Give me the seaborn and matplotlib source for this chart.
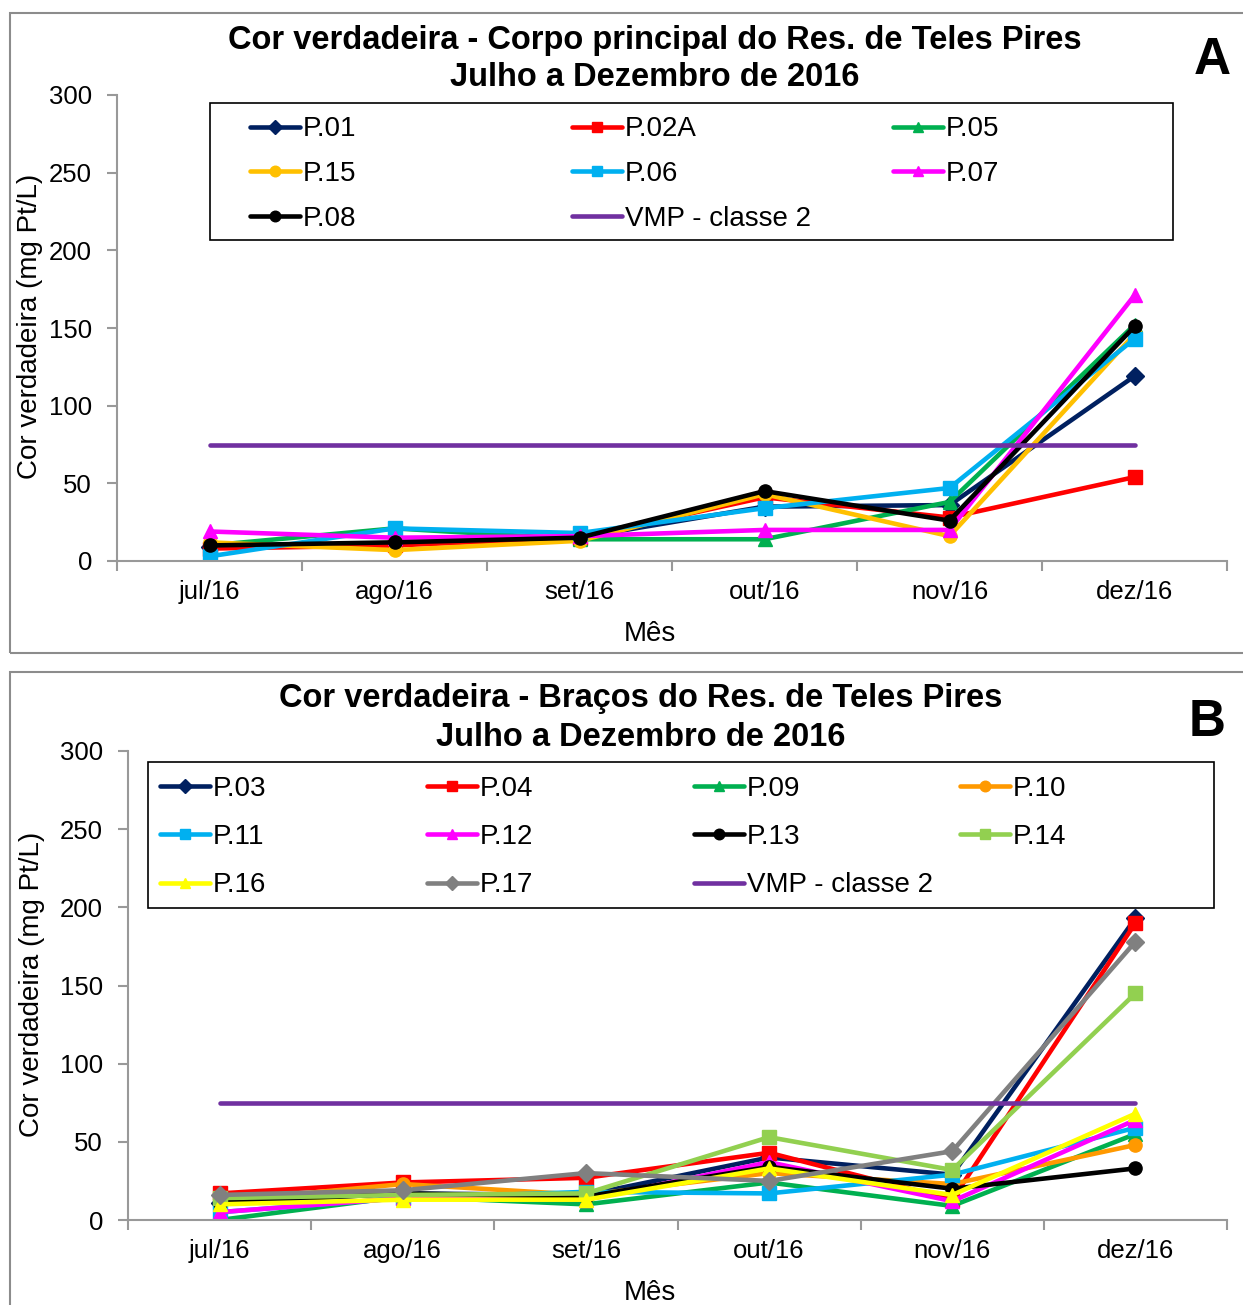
import numpy as np
import matplotlib
matplotlib.use("Agg")
import matplotlib.pyplot as plt
from matplotlib.patches import Rectangle
from matplotlib.lines import Line2D
import seaborn as sns

# Months and limit value
meses = ["jul/16", "ago/16", "set/16", "out/16", "nov/16", "dez/16"]
vmp_classe2 = [75, 75, 75, 75, 75, 75]

# Panel A - main body of the reservoir
nomes_a = ["P.01", "P.02A", "P.05", "P.15", "P.06", "P.07", "P.08"]
p01 = [9, 11, 15, 35, 36, 119]
p02a = [8, 10, 15, 41, 28, 54]
p05 = [10, 21, 14, 14, 38, 152]
p15 = [12, 7, 13, 43, 16, 146]
p06 = [3, 21, 18, 34, 47, 143]
p07 = [19, 15, 16, 20, 20, 171]
p08 = [10, 12, 15, 45, 26, 151]

# Panel B - reservoir arms
nomes_b = ["P.03", "P.04", "P.09", "P.10", "P.11", "P.12", "P.13", "P.14", "P.16", "P.17"]
p03 = [11, 17, 16, 40, 29, 193]
p04 = [17, 24, 27, 43, 13, 190]
p09 = [0, 15, 10, 24, 9, 55]
p10 = [12, 23, 16, 30, 23, 48]
p11 = [5, 14, 18, 17, 29, 59]
p12 = [5, 14, 13, 37, 12, 64]
p13 = [11, 17, 15, 34, 20, 33]
p14 = [14, 16, 17, 53, 32, 145]
p16 = [10, 13, 13, 33, 16, 68]
p17 = [16, 19, 30, 25, 44, 178]

series_a = [p01, p02a, p05, p15, p06, p07, p08]
cores_a = ["#002060", "#FF0000", "#00B050", "#FFC000", "#00B0F0", "#FF00FF", "#000000"]
marcas_a = ["D", "s", "^", "o", "s", "^", "o"]

series_b = [p03, p04, p09, p10, p11, p12, p13, p14, p16, p17]
cores_b = ["#002060", "#FF0000", "#00B050", "#FF9900", "#00B0F0", "#FF00FF",
           "#000000", "#92D050", "#FFFF00", "#808080"]
marcas_b = ["D", "s", "^", "o", "s", "^", "o", "s", "^", "D"]

VMP_COR = "#7030A0"

sns.set_theme(style="white")
plt.rcParams["font.family"] = ["Liberation Sans", "DejaVu Sans"]
plt.rcParams["text.color"] = "black"
plt.rcParams["axes.labelcolor"] = "black"
plt.rcParams["xtick.labelcolor"] = "black"
plt.rcParams["ytick.labelcolor"] = "black"

W, H = 1243, 1305
fig = plt.figure(figsize=(W / 100, H / 100), dpi=100)


def fx(x):
    return x / W


def fy(y):
    return 1 - y / H


def painel(box_top, box_bot, ax_l, ax_r, ax_t, ax_b, nomes, series, cores, marcas,
           titulo, tit_x, tit_y, letra, letra_xy, ylab_xy, xlab_y,
           leg_box, leg_cols_x, leg_mid_y, leg_spacing, leg_order):
    fig.add_artist(Rectangle((fx(10), fy(box_bot)), fx(1300) - fx(10), fy(box_top) - fy(box_bot),
                             transform=fig.transFigure, fill=False,
                             edgecolor="#8C8C8C", lw=1.5))
    ax = fig.add_axes([fx(ax_l), fy(ax_b), (ax_r - ax_l) / W, (ax_b - ax_t) / H])
    x = np.arange(len(meses))
    handles = []
    for nome, vals, cor, mk in zip(nomes, series, cores, marcas):
        sns.lineplot(x=x, y=vals, ax=ax, color=cor, marker=mk, markersize=9.5,
                     markeredgecolor=cor, markeredgewidth=1, linewidth=3.3,
                     legend=False, errorbar=None)
        handles.append(ax.lines[-1])
    sns.lineplot(x=x, y=vmp_classe2, ax=ax, color=VMP_COR, linewidth=3.3,
                 legend=False, errorbar=None)
    handles.append(ax.lines[-1])
    rotulos = nomes + ["VMP - classe 2"]

    ax.set_xlim(-0.5, len(meses) - 0.5)
    ax.set_ylim(0, 300)
    ax.set_yticks(np.arange(0, 301, 50))
    ax.set_xticks(np.arange(-0.5, len(meses)), [""] * (len(meses) + 1))
    ax.set_xticks(x, meses, minor=True)
    ax.tick_params(axis="both", which="major", direction="out", length=7, width=1.5,
                   color="#999999", labelcolor="black", labelsize=18.5, pad=11,
                   left=True, bottom=True)
    ax.tick_params(axis="x", which="minor", length=0, labelsize=18.5, pad=13.4,
                   labelcolor="black", bottom=True)
    for s in ["top", "right"]:
        ax.spines[s].set_visible(False)
    for s in ["left", "bottom"]:
        ax.spines[s].set_color("#999999")
        ax.spines[s].set_linewidth(1.5)
    ax.set_xlabel("")
    ax.set_ylabel("")

    # Legend: one block per column inside a common frame
    x0, y0, x1, y1 = leg_box
    fig.add_artist(Rectangle((fx(x0), fy(y1)), fx(x1) - fx(x0), fy(y0) - fy(y1),
                             transform=fig.transFigure, fill=False,
                             edgecolor="black", lw=1.2))
    blank = Line2D([], [], color="none")
    hmap = dict(zip(rotulos, handles))
    for cx, col in zip(leg_cols_x, leg_order):
        hs = [hmap.get(r, blank) for r in col]
        ls = [r if r in hmap else " " for r in col]
        fig.legend(hs, ls, loc="center left", bbox_to_anchor=(fx(cx), fy(leg_mid_y)),
                   frameon=False, fontsize=20, borderpad=0, borderaxespad=0,
                   handlelength=1.8, handletextpad=0.1, labelspacing=leg_spacing,
                   markerscale=0.8, labelcolor="black")

    fig.text(fx(tit_x), fy(tit_y[0]), titulo[0], ha="center", va="center",
             fontsize=23.5, fontweight="bold", color="black")
    fig.text(fx(tit_x), fy(tit_y[1]), titulo[1], ha="center", va="center",
             fontsize=23.5, fontweight="bold", color="black")
    fig.text(fx(letra_xy[0]), fy(letra_xy[1]), letra, ha="center", va="center",
             fontsize=37, fontweight="bold", color="black")
    fig.text(fx(ylab_xy[0]), fy(ylab_xy[1]), "Cor verdadeira (mg Pt/L)", rotation=90,
             ha="center", va="center", fontsize=20, color="black")
    fig.text(fx(650), fy(xlab_y), "Mês", ha="center", va="center", fontsize=20,
             color="black")
    return ax


painel(13, 653, 117, 1227, 95, 561, nomes_a, series_a, cores_a, marcas_a,
       ["Cor verdadeira - Corpo principal do Res. de Teles Pires",
        "Julho a Dezembro de 2016"], 655, (40, 77), "A", (1212, 60), (30, 326), 634,
       (210, 103, 1173, 240), [250, 572, 893], 174, 0.67,
       [["P.01", "P.15", "P.08"], ["P.02A", "P.06", "VMP - classe 2"],
        ["P.05", "P.07", None]])

painel(672, 1400, 128, 1227, 751, 1220, nomes_b, series_b, cores_b, marcas_b,
       ["Cor verdadeira - Braços do Res. de Teles Pires",
        "Julho a Dezembro de 2016"], 641, (699, 737), "B", (1207, 722), (32, 984), 1293,
       (148, 762, 1214, 908), [160, 427, 694, 960], 837, 0.81,
       [["P.03", "P.11", "P.16"], ["P.04", "P.12", "P.17"],
        ["P.09", "P.13", "VMP - classe 2"], ["P.10", "P.14", None]])

fig.savefig("out.png", dpi=100, facecolor="white")
